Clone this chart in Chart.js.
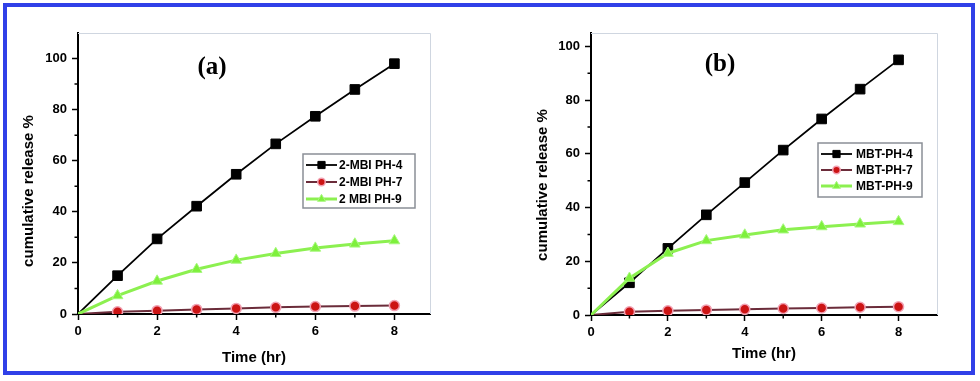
<!DOCTYPE html>
<html>
<head>
<meta charset="utf-8">
<script src="https://cdn.jsdelivr.net/npm/chart.js@4"></script>
<style>
  body { margin: 0; background: #fff; }
  #wrap { position: relative; width: 980px; height: 381px; overflow: hidden; }
  #frame { position: absolute; left: 3px; top: 3px; width: 972px; height: 372px; box-sizing: border-box; border: 4px solid #3040e8; }
  canvas { position: absolute; top: 0; }
</style>
</head>
<body>
<div id="wrap">
  <div id="frame"></div>
  <canvas id="chartA" width="490" height="381" style="left:0"></canvas>
  <canvas id="chartB" width="490" height="381" style="left:490px"></canvas>
</div>
<script>
// time points (hr)
const hours = [0, 1, 2, 3, 4, 5, 6, 7, 8];

// panel (a) 2-MBI
const mbiPh4 = [0, 15, 29.4, 42.2, 54.7, 66.6, 77.4, 87.9, 98];
const mbiPh7 = [0, 0.9, 1.3, 1.8, 2.2, 2.6, 2.9, 3.1, 3.3];
const mbiPh9 = [0, 7.2, 12.9, 17.5, 21.1, 23.7, 25.8, 27.4, 28.7];

// panel (b) MBT
const mbtPh4 = [0, 12, 24.8, 37.3, 49.3, 61.4, 73, 84.1, 95];
const mbtPh7 = [0, 1.2, 1.6, 1.9, 2.1, 2.4, 2.6, 2.9, 3.1];
const mbtPh9 = [0, 13.7, 23, 27.7, 29.8, 31.7, 32.9, 33.9, 34.8];

const labelsA = ['2-MBI PH-4', '2-MBI PH-7', '2 MBI PH-9'];
const labelsB = ['MBT-PH-4', 'MBT-PH-7', 'MBT-PH-9'];

const xTicks = [0, 2, 4, 6, 8];
const yTicks = [0, 20, 40, 60, 80, 100];
const xMinor = [1, 3, 5, 7];
const yMinor = [10, 30, 50, 70, 90];

const sans = '"Liberation Sans", Arial, sans-serif';

function pts(ys) {
  return hours.map((h, i) => ({ x: h, y: ys[i] }));
}

// first point sits on the origin without a marker
function radii(r) {
  return hours.map((h, i) => (i === 0 ? 0 : r));
}

function makeDatasets(labels, s4, s7, s9) {
  return [
    {
      label: labels[0], data: pts(s4), order: 1,
      borderColor: '#000', borderWidth: 1.8,
      pointStyle: 'rect', pointRadius: radii(6.8),
      pointBackgroundColor: '#000', pointBorderColor: '#000', pointBorderWidth: 1
    },
    {
      label: labels[1], data: pts(s7), order: 2,
      borderColor: '#6b2c3a', borderWidth: 2,
      pointStyle: 'circle', pointRadius: radii(5),
      pointBackgroundColor: '#cc1414', pointBorderColor: '#f2a2b4', pointBorderWidth: 1.5
    },
    {
      label: labels[2], data: pts(s9), order: 0,
      borderColor: '#8cf050', borderWidth: 3,
      pointStyle: 'triangle', pointRadius: radii(6.2),
      pointBackgroundColor: '#7ef03c', pointBorderColor: '#a8f880', pointBorderWidth: 1
    }
  ];
}

// frame lines, minor ticks, panel label, y title and legend
const decor = {
  id: 'decor',
  beforeDatasetsDraw(chart) {
    const { ctx, chartArea: a } = chart;
    ctx.save();
    ctx.strokeStyle = '#cfd6e0';
    ctx.lineWidth = 1;
    ctx.beginPath();
    ctx.moveTo(a.left, a.top + 0.5);
    ctx.lineTo(a.right + 0.5, a.top + 0.5);
    ctx.lineTo(a.right + 0.5, a.bottom);
    ctx.stroke();
    ctx.restore();
  },
  afterDraw(chart, args, opts) {
    const { ctx, chartArea: a, scales } = chart;
    ctx.save();
    ctx.strokeStyle = '#000';
    ctx.lineWidth = 1.5;
    ctx.beginPath();
    yMinor.forEach(v => {
      const y = scales.y.getPixelForValue(v);
      ctx.moveTo(a.left - 3.5, y);
      ctx.lineTo(a.left, y);
    });
    xMinor.forEach(v => {
      const x = scales.x.getPixelForValue(v);
      ctx.moveTo(x, a.bottom);
      ctx.lineTo(x, a.bottom + 3.5);
    });
    ctx.stroke();

    // panel label
    ctx.fillStyle = '#000';
    ctx.font = 'bold 25px "Liberation Serif", "Times New Roman", serif';
    ctx.textAlign = 'center';
    ctx.textBaseline = 'middle';
    ctx.fillText(opts.tag, opts.tagX, opts.tagY);

    // y axis title
    ctx.save();
    ctx.translate(opts.yTitleX, opts.yTitleY);
    ctx.rotate(-Math.PI / 2);
    ctx.font = 'bold 15px ' + sans;
    ctx.fillText('cumulative release %', 0, 0);
    ctx.restore();

    // legend
    const L = opts.legend;
    ctx.fillStyle = '#fff';
    ctx.fillRect(L.x, L.y, L.w, L.h);
    ctx.strokeStyle = '#8a8f96';
    ctx.lineWidth = 1.5;
    ctx.strokeRect(L.x, L.y, L.w, L.h);
    ctx.font = 'bold 12px ' + sans;
    ctx.textAlign = 'left';
    chart.data.datasets.forEach((ds, i) => {
      const ry = L.rows[i];
      ctx.strokeStyle = ds.borderColor;
      ctx.lineWidth = ds.borderWidth;
      ctx.beginPath();
      ctx.moveTo(L.x + 3, ry);
      ctx.lineTo(L.x + 3 + L.line, ry);
      ctx.stroke();
      ctx.fillStyle = ds.pointBackgroundColor;
      ctx.strokeStyle = ds.pointBorderColor;
      ctx.lineWidth = ds.pointBorderWidth;
      Chart.helpers.drawPoint(ctx, {
        pointStyle: ds.pointStyle, radius: ds.pointRadius[1] * 0.75, rotation: 0, borderWidth: ds.pointBorderWidth
      }, L.x + 3 + L.line / 2, ry);
      ctx.fillStyle = '#000';
      ctx.fillText(ds.label, L.x + L.textOff, ry + 0.5);
    });
    ctx.restore();
  }
};

function makeChart(id, cfg) {
  return new Chart(document.getElementById(id), {
    type: 'line',
    data: { datasets: cfg.datasets },
    plugins: [decor],
    options: {
      responsive: false,
      devicePixelRatio: 1,
      animation: false,
      events: [],
      layout: { padding: { left: 0, top: 33, right: cfg.padRight, bottom: 0 } },
      plugins: {
        legend: { display: false },
        tooltip: { enabled: false },
        decor: cfg.decor
      },
      scales: {
        x: {
          type: 'linear',
          min: 0,
          max: cfg.xMax,
          afterFit: s => { s.height = cfg.xHeight; },
          afterBuildTicks: s => { s.ticks = xTicks.map(v => ({ value: v })); },
          border: { color: '#000', width: 2 },
          grid: { drawOnChartArea: false, tickLength: 6, tickColor: '#000', tickWidth: 1.5 },
          ticks: { color: '#000', padding: 4, maxRotation: 0, font: { family: sans, size: 13, weight: 'bold' } },
          title: {
            display: true, text: 'Time (hr)', color: '#000',
            padding: { top: 0, bottom: cfg.xTitlePad },
            font: { family: sans, size: 15, weight: 'bold' }
          }
        },
        y: {
          min: 0,
          max: cfg.yMax,
          afterFit: s => { s.width = cfg.yWidth; },
          afterBuildTicks: s => { s.ticks = yTicks.map(v => ({ value: v })); },
          border: { color: '#000', width: 2 },
          grid: { drawOnChartArea: false, tickLength: 6, tickColor: '#000', tickWidth: 1.5 },
          ticks: { color: '#000', padding: 5, font: { family: sans, size: 13, weight: 'bold' } }
        }
      }
    }
  });
}

makeChart('chartA', {
  datasets: makeDatasets(labelsA, mbiPh4, mbiPh7, mbiPh9),
  xMax: 8.9, yMax: 110,
  padRight: 60, yWidth: 78, xHeight: 67, xTitlePad: 14,
  decor: {
    tag: '(a)', tagX: 212, tagY: 68,
    yTitleX: 29, yTitleY: 191,
    legend: { x: 303, y: 154, w: 112, h: 54, rows: [165, 182, 199], line: 31, textOff: 36 }
  }
});

makeChart('chartB', {
  datasets: makeDatasets(labelsB, mbtPh4, mbtPh7, mbtPh9),
  xMax: 9, yMax: 105,
  padRight: 43, yWidth: 101, xHeight: 66, xTitlePad: 18,
  decor: {
    tag: '(b)', tagX: 230, tagY: 65,
    yTitleX: 53, yTitleY: 185,
    legend: { x: 328, y: 143, w: 104, h: 54, rows: [154, 170, 186], line: 31, textOff: 38 }
  }
});
</script>
</body>
</html>
